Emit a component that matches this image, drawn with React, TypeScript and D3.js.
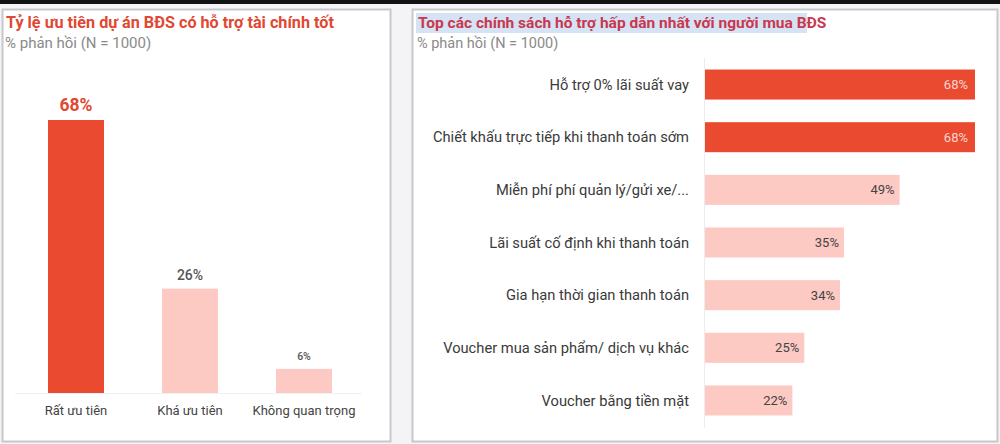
import React from "react";
import * as d3 from "d3";

const priorityCats = ["Rất ưu tiên", "Khá ưu tiên", "Không quan trọng"];
const priorityVals = [68, 26, 6];

const policyCats = [
  "Hỗ trợ 0% lãi suất vay",
  "Chiết khấu trực tiếp khi thanh toán sớm",
  "Miễn phí phí quản lý/gửi xe/...",
  "Lãi suất cố định khi thanh toán",
  "Gia hạn thời gian thanh toán",
  "Voucher mua sản phẩm/ dịch vụ khác",
  "Voucher bằng tiền mặt",
];
const policyVals = [68, 68, 49, 35, 34, 25, 22];

const RED = "#ea4a30";
const PINK = "#fdc9c3";
const FONT = "Roboto, 'Noto Sans', sans-serif";

export default function App() {
  // left chart
  const xLeft = d3.scalePoint().domain(priorityCats).range([76, 304]);
  const yL = d3.scaleLinear().domain([0, 68]).range([393, 120]);
  const barW = 56;
  const labelSizes = [17.5, 14, 10.5];

  // right chart
  const yR = d3.scaleBand().domain(policyCats).range([59, 426]).paddingInner(0.43).paddingOuter(0.2);
  const xR = d3.scaleLinear().domain([0, 68]).range([705, 975]);

  return (
    <svg width={1000} height={444} style={{ position: "absolute", left: 0, top: 0, fontFamily: FONT }}>
      <rect x={0} y={0} width={1000} height={444} fill="#f4f4f6" />
      <rect x={0} y={0} width={1000} height={4} fill="#111" />
      {/* panels */}
      <rect x={2.5} y={9.5} width={388} height={432} fill="#fff" stroke="#c8c8cc" strokeWidth={2} />
      <rect x={412.5} y={9.5} width={585} height={432} fill="#fff" stroke="#c8c8cc" strokeWidth={2} />

      {/* left titles */}
      <text x={6} y={28} fontSize={16.2} fontWeight={700} fill="#e04832">
        Tỷ lệ ưu tiên dự án BĐS có hỗ trợ tài chính tốt
      </text>
      <text x={5} y={48} fontSize={15} fill="#8a8a8a">
        % phản hồi (N = 1000)
      </text>

      {/* left baseline */}
      <line x1={15} x2={362} y1={393.5} y2={393.5} stroke="#f1f1f1" strokeWidth={1} />
      {priorityCats.map((c, i) => {
        const cx = xLeft(c)!;
        const v = priorityVals[i];
        const top = yL(v);
        return (
          <g key={c}>
            <rect x={cx - barW / 2} y={top} width={barW} height={yL(0) - top} fill={i === 0 ? RED : PINK} />
            <text
              x={cx}
              y={top - 9}
              textAnchor="middle"
              fontSize={labelSizes[i]}
              fontWeight={i === 0 ? 700 : 500}
              fill={i === 0 ? "#e04832" : "#555"}
            >
              {v}%
            </text>
            <text x={cx} y={415} textAnchor="middle" fontSize={13} fill="#444">
              {c}
            </text>
          </g>
        );
      })}

      {/* right titles */}
      <rect x={416} y={13} width={391} height={20} fill="#d5e3f4" />
      <text x={418} y={28} fontSize={15.5} fontWeight={700} fill="#c8384e">
        Top các chính sách hỗ trợ hấp dẫn nhất với người mua BĐS
      </text>
      <text x={417} y={48} fontSize={14.5} fill="#8a8a8a">
        % phản hồi (N = 1000)
      </text>

      <line x1={704.5} x2={704.5} y1={58} y2={428} stroke="#ececec" strokeWidth={1} />
      {policyCats.map((c, i) => {
        const y = yR(c)!;
        const h = yR.bandwidth();
        const v = policyVals[i];
        const red = i < 2;
        return (
          <g key={c}>
            <rect x={xR(0)} y={y} width={xR(v) - xR(0)} height={h} fill={red ? RED : PINK} />
            <text x={689} y={y + h / 2} dy="0.35em" textAnchor="end" fontSize={14.7} fill="#3a3a3a">
              {c}
            </text>
            <text
              x={xR(v) - (red ? 7 : 5)}
              y={y + h / 2}
              dy="0.35em"
              textAnchor="end"
              fontSize={13}
              fill={red ? "#fbd5cf" : "#444"}
            >
              {v}%
            </text>
          </g>
        );
      })}
    </svg>
  );
}
